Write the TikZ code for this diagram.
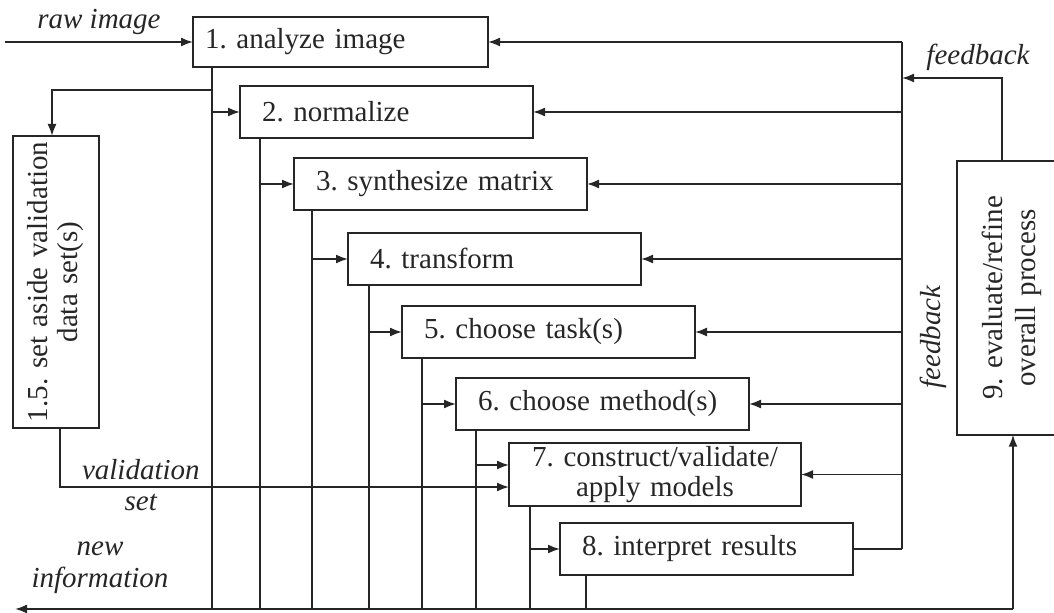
\documentclass[tikz,border=0pt]{standalone}
\usepackage{fontspec}
\setmainfont{Liberation Serif}
\usetikzlibrary{positioning, calc, arrows.meta}
\frenchspacing

\begin{document}
\begin{tikzpicture}[
  x=0.5pt, y=-0.5pt,
  color=black!85,
  line width=0.9pt,
  font=\fontsize{14.5pt}{16pt}\selectfont,
  node distance=10pt and 27pt,
  stepbox/.style={draw, minimum height=26pt, text width=124.5pt, inner xsep=11pt, inner ysep=3pt, outer sep=0pt, align=left},
  sidebox/.style={draw, rotate=90, outer sep=0pt, align=center},
  tag/.style={font=\fontsize{14.5pt}{16pt}\selectfont\itshape},
  arrow/.style={-{Latex[length=6pt, width=4.5pt]}},
]

  \useasboundingbox (0,0) rectangle (1054,613);

  % Steps of the process
  \node (box1) [stepbox, anchor=north west, minimum height=25pt, text width=135.5pt, inner xsep=6pt] at (193,17) {1. analyze image};
  \node (box2) [stepbox, below right=9.5pt and 23.5pt of box1.south west] {2. normalize};
  \node (box3) [stepbox, below right=of box2.south west] {3. synthesize matrix};
  \node (box4) [stepbox, below right=11.5pt and 27pt of box3.south west] {4. transform};
  \node (box5) [stepbox, below right=10.5pt and 27pt of box4.south west] {5. choose task(s)};
  \node (box6) [stepbox, below right=of box5.south west] {6. choose method(s)};
  \node (box7) [stepbox, below right=6.5pt and 26.5pt of box6.south west, minimum height=31.5pt, text width=142pt, inner xsep=2pt, inner ysep=0pt, align=center, font=\fontsize{14.5pt}{15pt}\selectfont] {7. construct/validate/\\apply models};
  \node (box8) [stepbox, below right=8.5pt and 25.5pt of box7.south west] {8. interpret results};

  % Side boxes
  \node (aside) [sidebox, minimum width=146pt, minimum height=43pt, text width=144pt, inner xsep=1pt, font=\fontsize{14.5pt}{15pt}\selectfont] at (56,282) {1.5. set aside validation\\data set(s)};
  \node (eval) [sidebox, minimum width=136pt, minimum height=55pt, text width=130pt, font=\fontsize{14.5pt}{16.5pt}\selectfont] at (1012,298) {9. evaluate/refine\\overall process};

  % Bus at the bottom
  \coordinate (busL) at (15,609);
  \coordinate (busR) at (1013,609);

  % Each step drops to the bus
  \foreach \i/\t in {1/9.5,2/10,3/9,4/10.5,5/10,6/10,7/10.5,8/13} {
    \coordinate (tap\i) at ($(box\i.south west)+(\t pt,0pt)$);
    \draw (tap\i) -- (tap\i |- busL);
  }

  % Each step feeds the next one
  \foreach \i/\j/\s in {1/2/0,2/3/0,3/4/0,4/5/0,5/6/0,6/7/4.75,7/8/0} {
    \coordinate (in\j) at ([yshift=\s pt]box\j.west);
    \draw [arrow] (tap\i |- in\j) -- (in\j);
  }

  % Raw image in
  \coordinate (rawin) at (5,42);
  \draw [arrow] (rawin) -- node[tag, above] {raw image} (box1.west);

  % Validation set
  \coordinate (split) at ($(tap1)+(0pt,-11.5pt)$);
  \draw [arrow] (split) -| ([xshift=-2pt]aside.east);
  \draw [arrow] ([xshift=2pt]aside.west) |- node[tag, pos=0.59, above] {validation} node[tag, pos=0.59, below] {set} ([yshift=-6.25pt]box7.west);

  % New information out, and on to step 9
  \draw [arrow] (busR) -- (busL);
  \draw [arrow] (busR) -- (busR |- eval.west);
  \node (newinfo) [tag, align=center] at (100,568) {new\\information};

  % Feedback to every step
  \draw (box8.east) -- ++(24.5pt,0pt) coordinate (fb);
  \draw (fb) -- (fb |- box1.east);
  \foreach \i in {1,...,7} {
    \draw [arrow] (fb |- box\i.east) -- (box\i.east);
  }
  \node (fbside) [tag, rotate=90] at (933,337) {feedback};

  \coordinate (evaltop) at ([xshift=-5pt]eval.east);
  \draw [arrow] (evaltop) |- node[tag, pos=0.62, above] {feedback} ($(fb |- box1.east)+(0pt,-18pt)$);

\end{tikzpicture}
\end{document}
